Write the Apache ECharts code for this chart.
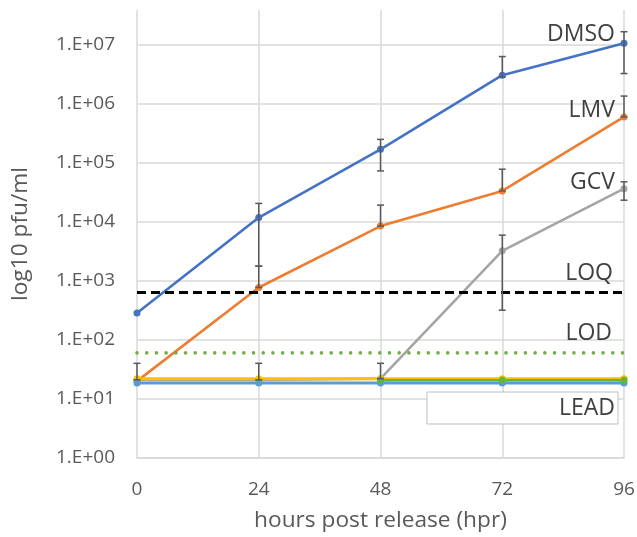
<!DOCTYPE html>
<html>
<head>
<meta charset="utf-8">
<script src="https://cdn.jsdelivr.net/npm/echarts@6/dist/echarts.min.js"></script>
<style>
html,body{margin:0;padding:0;background:#fff;}
#chart{width:637px;height:537px;}
</style>
</head>
<body>
<div id="chart"></div>
<script>
// ---- data ----
const hours = [0, 24, 48, 72, 96];
const xTickLabels = ['0', '24', '48', '72', '96'];
const yTickLabels = ['1.E+00', '1.E+01', '1.E+02', '1.E+03', '1.E+04', '1.E+05', '1.E+06', '1.E+07'];

const dmso = [285, 11700, 167000, 3000000, 10400000];
const dmsoErrHigh = [null, 20300, 246000, 6200000, 16300000];
const dmsoErrLow = [null, 1760, 72000, 2800000, 3200000];

const lmv = [20, 768, 8400, 33000, 590000];
const lmvErrHigh = [null, 1760, 19000, 77000, 1330000];
const lmvErrLow = [null, null, null, null, null];

const gcv = [21, 21, 22, 3200, 36000];
const gcvErrHigh = [40, 40, 40, 5900, 47000];
const gcvErrLow = [null, null, null, 317, 23000];

const gold = [22, 22, 22, 22, 22];
const lead = [18.6, 18.6, 18.6, 18.6, 18.6];
const green = [null, null, 20.7, 20.7, 20.7];

const loq = [630, 630, 630, 630, 630];
const lod = [60, 60, 60, 60, 60];

const seriesLabels = ['DMSO', 'LMV', 'GCV', 'LOQ', 'LOD', 'LEAD'];

// ---- build ----
const FONT = 'Open Sans';
function pts(arr) { return hours.map((h, i) => [h, arr[i]]); }
function errData(vals, lo, hi) {
  const out = [];
  hours.forEach((h, i) => {
    if (lo[i] == null && hi[i] == null) return;
    out.push([h, lo[i] == null ? vals[i] : lo[i], hi[i] == null ? vals[i] : hi[i]]);
  });
  return out;
}
const errAll = [].concat(
  errData(dmso, dmsoErrLow, dmsoErrHigh),
  errData(lmv, lmvErrLow, lmvErrHigh),
  errData(gcv, gcvErrLow, gcvErrHigh)
);

function lineSeries(name, arr, color, width) {
  return {
    name: name, type: 'line', data: pts(arr),
    symbol: 'circle', symbolSize: 7, showSymbol: true,
    lineStyle: { color: color, width: width || 2.6 },
    itemStyle: { color: color },
    connectNulls: false, animation: false, z: 3
  };
}

const labelFont = '23px "Open Sans"';
function label(i, x, y) {
  return { type: 'text', z: 11, x: x, y: y,
    style: { text: seriesLabels[i], align: 'right', verticalAlign: 'middle', fill: '#404040', font: labelFont } };
}

const chart = echarts.init(document.getElementById('chart'), null, { renderer: 'canvas' });
const option = {
  animation: false,
  backgroundColor: '#ffffff',
  grid: { left: 137, right: 13, top: 10, bottom: 79, containLabel: false, outerBoundsMode: 'none' },
  xAxis: {
    type: 'value', min: 0, max: 96, interval: 24,
    axisLine: { show: true, lineStyle: { color: '#D9D9D9', width: 1.5 } },
    axisTick: { show: false },
    splitLine: { show: true, lineStyle: { color: '#D9D9D9', width: 1.5 } },
    axisLabel: {
      color: '#595959', fontSize: 19, fontFamily: FONT, margin: 22,
      formatter: function (v) { return xTickLabels[hours.indexOf(v)] || ''; }
    },
    name: 'hours post release (hpr)', nameLocation: 'middle', nameGap: 51,
    nameTextStyle: { color: '#595959', fontSize: 22.7, fontFamily: FONT }
  },
  yAxis: {
    type: 'log', logBase: 10, min: 1, max: Math.pow(10, 7.58), interval: 1,
    axisLine: { show: false },
    axisTick: { show: false },
    splitLine: { show: true, lineStyle: { color: ['#D9D9D9','#D9D9D9','#D9D9D9','#D9D9D9','#D9D9D9','#D9D9D9','#D9D9D9','#D9D9D9','rgba(0,0,0,0)'], width: 1.5 } },
    axisLabel: {
      color: '#595959', fontSize: 19, fontFamily: FONT, margin: 22,
      showMaxLabel: false,
      formatter: function (v) {
        const e = Math.round(Math.log10(v));
        return yTickLabels[e] || '';
      }
    },
    name: 'log10 pfu/ml', nameLocation: 'middle', nameGap: 105,
    nameTextStyle: { color: '#595959', fontSize: 22.7, fontFamily: FONT }
  },
  series: [
    lineSeries('DMSO', dmso, '#4472C4'),
    lineSeries('LMV', lmv, '#ED7D31'),
    lineSeries('GCV', gcv, '#A5A5A5'),
    lineSeries('gold', gold, '#FFC000', 3),
    lineSeries('LEAD', lead, '#5B9BD5', 3),
    lineSeries('green', green, '#5FB83A', 2.6),
    {
      name: 'LOQ', type: 'line', data: pts(loq), showSymbol: false, z: 4,
      lineStyle: { color: '#000000', width: 3, type: [9, 5] }
    },
    {
      name: 'LOD', type: 'line', data: pts(lod), showSymbol: false, z: 4,
      lineStyle: { color: '#70AD47', width: 3.6, type: [0.01, 9.7], cap: 'round' }
    },
    {
      name: 'err', type: 'custom', z: 5,
      data: errAll,
      renderItem: function (params, api) {
        const x = api.value(0);
        const lo = api.coord([x, api.value(1)]);
        const hi = api.coord([x, api.value(2)]);
        const cw = 3.5;
        const st = { stroke: '#595959', lineWidth: 1.5, fill: null };
        return {
          type: 'group',
          children: [
            { type: 'line', shape: { x1: lo[0], y1: lo[1], x2: hi[0], y2: hi[1] }, style: st },
            { type: 'line', shape: { x1: hi[0] - cw, y1: hi[1], x2: hi[0] + cw, y2: hi[1] }, style: st },
            { type: 'line', shape: { x1: lo[0] - cw, y1: lo[1], x2: lo[0] + cw, y2: lo[1] }, style: st }
          ]
        };
      }
    }
  ],
  graphic: [
    { type: 'rect', z: 10, shape: { x: 427, y: 392, width: 191, height: 32 },
      style: { fill: '#ffffff', stroke: '#BFBFBF', lineWidth: 1 } },
    label(0, 615, 34),
    label(1, 615, 110),
    label(2, 615, 182),
    label(3, 613, 273),
    label(4, 612, 333),
    label(5, 615, 408)
  ]
};
chart.setOption(option);
</script>
</body>
</html>
